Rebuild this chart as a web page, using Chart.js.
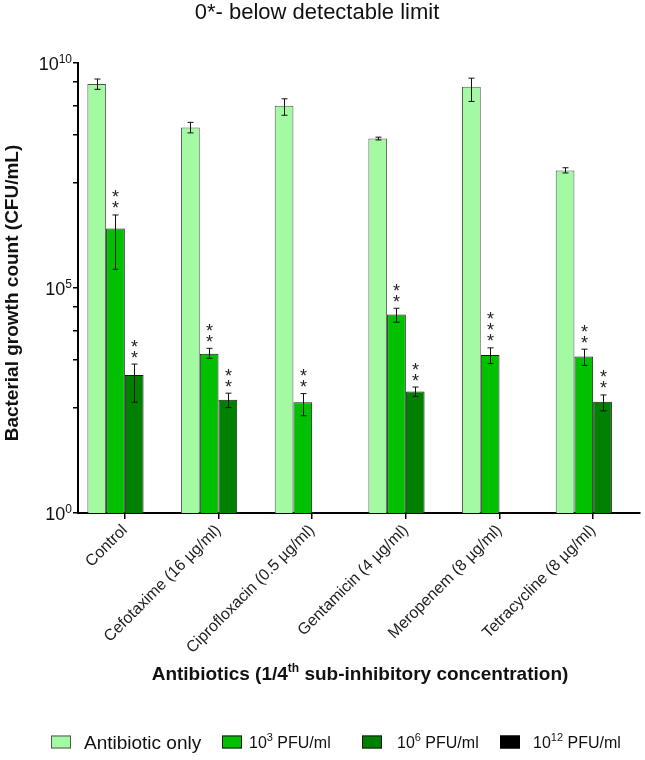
<!DOCTYPE html>
<html><head><meta charset="utf-8">
<script src="https://cdn.jsdelivr.net/npm/chart.js@4"></script>
<style>html,body{margin:0;padding:0;background:#fff}#wrap{width:645px;height:760px;position:relative}</style>
</head><body><div id="wrap"><canvas id="c" width="645" height="760"></canvas></div>
<script>
// ---- data ----
const categories = ['Control','Cefotaxime (16 µg/ml)','Ciprofloxacin (0.5 µg/ml)','Gentamicin (4 µg/ml)','Meropenem (8 µg/ml)','Tetracycline (8 µg/ml)'];
const seriesLabels = ['Antibiotic only','10^{3} PFU/ml','10^{6} PFU/ml','10^{12} PFU/ml'];

const antibioticOnly     = [3.4e9, 3.7e8, 1.12e9, 2.1e8, 2.95e9, 4.1e7];
const antibioticOnlyLow  = [2.6e9, 2.8e8, 6.9e8, 1.95e8, 1.4e9, 3.6e7];
const antibioticOnlyHigh = [4.4e9, 4.8e8, 1.6e9, 2.25e8, 4.6e9, 4.7e7];

const pfu3     = [2.1e6, 3470, 290, 25700, 3240, 3020];
const pfu3Low  = [2.6e5, 2750, 145, 17400, 2090, 1900];
const pfu3High = [4.2e6, 4570, 450, 35500, 4680, 4370];

const pfu6     = [1170, 330, null, 500, null, 295];
const pfu6Low  = [290, 220, null, 390, null, 186];
const pfu6High = [2040, 460, null, 630, null, 420];

const pfu12     = [null, null, null, null, null, null];
const pfu12Low  = [null, null, null, null, null, null];
const pfu12High = [null, null, null, null, null, null];

const starsAB = [0,0,0,0,0,0];
const stars3  = [2,2,2,2,3,2];
const stars6  = [2,2,0,2,0,2];
const stars12 = [0,0,0,0,0,0];

const yMajorTicks = [1, 1e5, 1e10];
const yMajorLabels = ['10^{0}','10^{5}','10^{10}'];
const yMinorTicks = [220, 2500, 1.1e4, 3.8e4, 2.2e7, 2.5e8, 1.1e9, 3.8e9];

const titleText = '0*- below detectable limit';
const yTitle = 'Bacterial growth count (CFU/mL)';
const xTitle = 'Antibiotics (1/4^{th} sub-inhibitory concentration)';

// ---- helpers ----
const FAM = 'Arial, "Liberation Sans", sans-serif';
function parseRich(s){
  const parts=[]; const re=/\^\{([^}]*)\}/g; let last=0,m;
  while((m=re.exec(s))){ if(m.index>last) parts.push({t:s.slice(last,m.index),sup:false}); parts.push({t:m[1],sup:true}); last=re.lastIndex; }
  if(last<s.length) parts.push({t:s.slice(last),sup:false});
  return parts;
}
function richWidth(ctx,s,size,supSize,weight){
  let w=0; for(const p of parseRich(s)){ ctx.font=`${weight} ${p.sup?supSize:size}px ${FAM}`; w+=ctx.measureText(p.t).width; } return w;
}
function drawRich(ctx,s,x,y,size,supSize,weight,align,supRaise){
  const w=richWidth(ctx,s,size,supSize,weight);
  let cx = align==='center'? x-w/2 : align==='right'? x-w : x;
  ctx.textAlign='left'; ctx.textBaseline='alphabetic';
  for(const p of parseRich(s)){
    ctx.font=`${weight} ${p.sup?supSize:size}px ${FAM}`;
    ctx.fillText(p.t,cx,p.sup? y-supRaise : y);
    cx+=ctx.measureText(p.t).width;
  }
}

const colors = ['#a3faa3','#00c000','#008000','#000000'];
const borders = ['#555555','#1a1a1a','#1a1a1a','#000000'];
const seriesData = [antibioticOnly,pfu3,pfu6,pfu12];
const lows = [antibioticOnlyLow,pfu3Low,pfu6Low,pfu12Low];
const highs = [antibioticOnlyHigh,pfu3High,pfu6High,pfu12High];
const stars = [starsAB,stars3,stars6,stars12];

const decor = {
  id:'decor',
  afterDatasetsDraw(chart){
    const ctx=chart.ctx, ys=chart.scales.y;
    ctx.save();
    ctx.strokeStyle='#111'; ctx.fillStyle='#222'; ctx.lineWidth=1;
    chart.data.datasets.forEach((ds,i)=>{
      const meta=chart.getDatasetMeta(i);
      meta.data.forEach((bar,j)=>{
        if(seriesData[i][j]==null) return;
        const x=Math.round(bar.x)+0.5;
        const yl=ys.getPixelForValue(lows[i][j]), yh=ys.getPixelForValue(highs[i][j]);
        ctx.beginPath();
        ctx.moveTo(x,yl); ctx.lineTo(x,yh);
        ctx.moveTo(x-3,yl); ctx.lineTo(x+3,yl);
        ctx.moveTo(x-3,yh); ctx.lineTo(x+3,yh);
        ctx.stroke();
        const n=stars[i][j];
        ctx.font=`18px ${FAM}`; ctx.textAlign='center'; ctx.textBaseline='alphabetic';
        for(let k=0;k<n;k++){
          const cy=yh-11-k*11;
          ctx.fillText('*',x,cy+10.5);
        }
      });
    });
    ctx.restore();
  },
  afterDraw(chart){
    const ctx=chart.ctx, ys=chart.scales.y;
    ctx.save();
    ctx.fillStyle='#111';
    // title
    ctx.font=`22px ${FAM}`; ctx.textAlign='center'; ctx.textBaseline='alphabetic';
    ctx.fillText(titleText,317,19);
    // y tick labels
    yMajorTicks.forEach((v,i)=>{
      const y=ys.getPixelForValue(v);
      drawRich(ctx,yMajorLabels[i],72,y+6.5,18,12,'normal','right',7);
    });
    // y title
    ctx.save();
    ctx.translate(13,293); ctx.rotate(-Math.PI/2);
    ctx.font=`bold 19px ${FAM}`; ctx.textAlign='center'; ctx.textBaseline='middle';
    ctx.fillText(yTitle,0,0);
    ctx.restore();
    // x title
    drawRich(ctx,xTitle,360,680,19,12,'bold','center',8);
    // legend
    const lx=[51,222,362,500];
    const tx=[84,249,397,533];
    const ly=742;
    seriesLabels.forEach((lab,i)=>{
      ctx.fillStyle=colors[i]; ctx.fillRect(lx[i],ly-6.5,20,13);
      ctx.strokeStyle=borders[i]; ctx.lineWidth=1; ctx.strokeRect(lx[i]+0.5,ly-6,19,12);
      ctx.fillStyle='#111';
      if(i===0) drawRich(ctx,lab,tx[i],ly+7,19,12,'normal','left',7);
      else drawRich(ctx,lab,tx[i],ly+6,16,11,'normal','left',7);
    });
    ctx.restore();
  }
};

new Chart(document.getElementById('c'),{
  type:'bar',
  data:{
    labels:categories,
    datasets:seriesData.map((d,i)=>({label:seriesLabels[i],data:d,backgroundColor:colors[i],borderColor:borders[i],borderWidth:1,categoryPercentage:0.8,barPercentage:1.0}))
  },
  options:{
    responsive:false, animation:false,
    layout:{padding:{top:63,right:5,left:0,bottom:0}},
    plugins:{legend:{display:false},title:{display:false},tooltip:{enabled:false}},
    scales:{
      x:{
        grid:{display:true,offset:false,drawOnChartArea:false,drawTicks:true,tickLength:6,color:'#000',lineWidth:1.5},
        border:{display:true,color:'#000',width:2},
        ticks:{autoSkip:false,maxRotation:45,minRotation:45,color:'#222',padding:2,font:{family:FAM,size:16}},
        afterFit(s){s.height=247;}
      },
      y:{
        type:'logarithmic', min:1, max:1e10,
        afterBuildTicks(s){ s.ticks=[...yMajorTicks,...yMinorTicks].sort((a,b)=>a-b).map(v=>({value:v})); },
        grid:{display:true,drawOnChartArea:false,drawTicks:true,tickLength:5,color:'#000',lineWidth:1.5},
        border:{display:true,color:'#000',width:2},
        ticks:{callback:()=>'',padding:0},
        afterFit(s){s.width=78;}
      }
    }
  },
  plugins:[decor]
});
</script>
</body></html>
